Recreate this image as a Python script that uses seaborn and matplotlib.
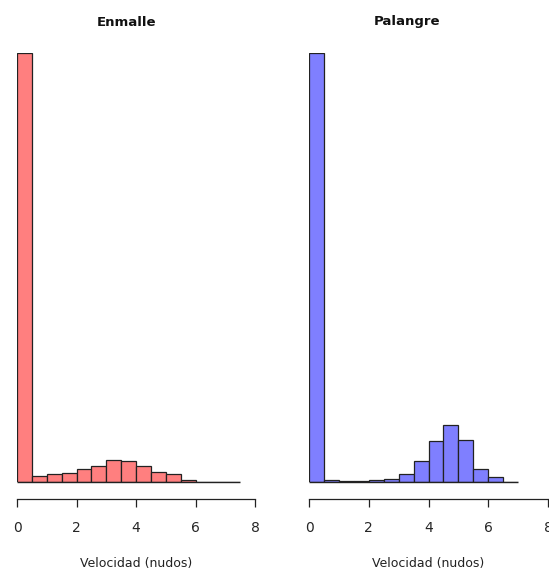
import matplotlib
matplotlib.use("Agg")
import matplotlib.pyplot as plt
import numpy as np
import pandas as pd
import seaborn as sns

# Histogram counts per 0.5-knot bin (relative)
enmalle_edges = [0, 0.5, 1, 1.5, 2, 2.5, 3, 3.5, 4, 4.5, 5, 5.5, 6, 6.5, 7, 7.5]
enmalle_counts = [1000, 14, 18, 21, 30, 37, 52, 49, 37, 24, 18, 5, 0, 0, 0]

palangre_edges = [0, 0.5, 1, 1.5, 2, 2.5, 3, 3.5, 4, 4.5, 5, 5.5, 6, 6.5, 7]
palangre_counts = [1000, 5, 2, 2, 5, 8, 19, 49, 96, 133, 99, 31, 11, 0]

titles = ["Enmalle", "Palangre"]
xticks = [0, 2, 4, 6, 8]
xlabel = "Velocidad (nudos)"

sns.set_style("white")
plt.rcParams["font.family"] = ["DejaVu Sans"]

W, H = 549, 570
fig = plt.figure(figsize=(W / 100, H / 100), dpi=100)

panels = [
    (enmalle_edges, enmalle_counts, "#FF7F7F", 17, 255, 127),
    (palangre_edges, palangre_counts, "#7F7FFF", 309, 548, 407),
]

for (edges, counts, color, x0, x8, tx), title in zip(panels, titles):
    ax = fig.add_axes([x0 / W, (H - 482) / H, (x8 - x0) / W, (482 - 53) / H])
    df = pd.DataFrame({
        "mid": (np.array(edges[:-1]) + np.array(edges[1:])) / 2,
        "n": counts,
    })
    sns.histplot(data=df, x="mid", weights="n", bins=edges, ax=ax,
                 color=color, alpha=1, edgecolor="#222222", linewidth=0.9)
    # empty bins show as a line along the base, like R's hist()
    ax.hlines(0, edges[0], edges[-1], color="#222222", linewidth=1.0,
              clip_on=False, zorder=3)
    ax.set_xlim(0, 8)
    ax.set_ylim(0, 1000)
    ax.set_yticks([])
    ax.set_ylabel("")
    for s in ["left", "right", "top"]:
        ax.spines[s].set_visible(False)
    ax.spines["bottom"].set_position(("outward", 12.2))
    ax.spines["bottom"].set_bounds(0, 8)
    ax.spines["bottom"].set_color("#222222")
    ax.spines["bottom"].set_linewidth(0.9)
    ax.set_xticks(xticks)
    ax.set_xticklabels([str(t) for t in xticks])
    ax.tick_params(axis="x", direction="out", length=5.8, width=0.9,
                   color="#222222", pad=10, labelsize=10, bottom=True)
    ax.set_xlabel("")
    fig.text(((x0 + x8) / 2) / W, 1 - 563 / H, xlabel, ha="center",
             va="center", fontsize=9, color="#222222")
    fig.text(tx / W, 1 - 22 / H, title, ha="center", va="center",
             fontsize=9.5, fontweight="bold", color="#111111")

fig.savefig("out.png", dpi=100)
